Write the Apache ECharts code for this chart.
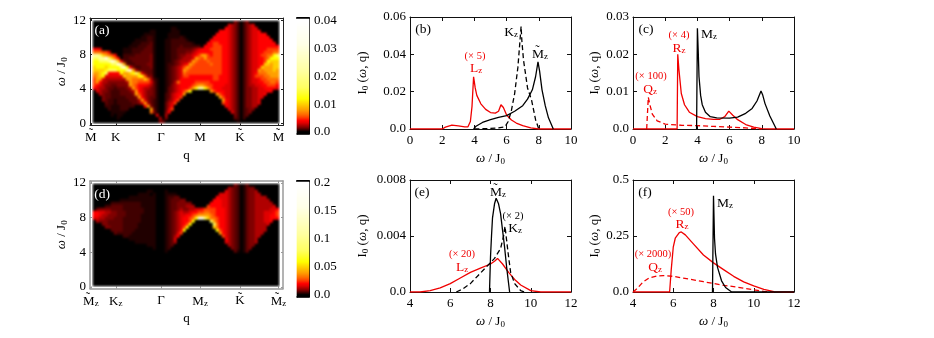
<!DOCTYPE html>
<html><head><meta charset="utf-8">
<style>html,body{margin:0;padding:0;background:#fff}#c{width:934px;height:338px}</style>
<script src="https://cdn.jsdelivr.net/npm/echarts@6/dist/echarts.min.js"></script>
</head><body><div id="c"></div>
<script>
// ---- colour levels used by the two heat maps (fraction of the colour scale) ----
const levelFrac=[0,.01,.02,.03,.04,.06,.08,.1,.13,.16,.2,.25,.3,.4,.55,.8,1];
const levelColor=['#000000','#200000','#400000','#600000','#800000','#b00000','#e00000','#ff0000','#ff4000','#ff7000','#ffa000','#ffd000','#ffff00','#ffff60','#ffffa0','#ffffe8','#ffffff'];
// ---- panel (a): intensity level, one string per omega row (top = 12), 62 q columns ----
const heatA=[
"0000000000 0000000000 0000000000 0000000000 0000000420 2400000000 00",
"0000000000 0000000000 0000000000 0000000000 0000065420 2456000000 00",
"0000000000 0000000000 0000001100 0000000000 0000765420 2456600000 00",
"0000000000 0000000001 1000001110 0000000000 0077765420 2456670000 00",
"0000000000 0000000111 1000011110 0000000000 0777765420 2456677700 00",
"0000000000 0000001122 1000011112 1000000000 7777765420 2456677770 00",
"0000000000 0000111122 1000112222 2100000007 7777765420 2456677777 00",
"0000000000 0001112223 1000112222 2221000077 8877765420 2456677777 70",
"0000000000 0011122233 1000112223 2222220777 8887765420 2456677777 77",
"7760000000 1112222333 1000112233 3334567778 8887765420 2456677788 88",
"9998860000 1112223333 1000112233 3445677777 8887765420 2456677888 99",
"eedba98700 2222333334 1000112234 455678aa87 8887765420 2456678899 cd",
"ddeefdb970 2233333334 1000112234 5556a98a88 8887765420 245667789c cc",
"ccdddefeb7 3223333334 1000112345 556a988898 8887765420 24566778cb bb",
"ccccccddfe a322333344 1000122345 67a9888889 8887765420 2456677bba bb",
"bcccbcccce fc74223334 1000123456 8a98888888 8887765420 245667baaa bb",
"bbbbcdddcc cefa533333 1000123456 a988888888 8887765420 24566a9aaa ba",
"aabcd7777c aabcdb6433 1000123456 9888888888 8887765420 24567999aa aa",
"9abc666666 baaaacc844 1000123456 8877777777 8877765420 245688899a aa",
"8aa6555555 5aa9999b95 2100123457 7777777777 8877765420 2456678899 99",
"8a75544444 45a9988886 3100123597 7777888887 7777765420 2456677889 98",
"8765443344 44a9877765 3100124567 77789aa988 7777665420 2455667788 87",
"7655433233 345a876554 3100134567 778aceeca8 7776665420 2445566777 76",
"0654432223 3345a76544 3100134567 8ac000000a 8777665420 2445566677 00",
"0054332223 3334a86544 3100235677 a000000000 0a87665420 2445566700 00",
"0004332222 23334a7543 3100235678 0000000000 00a8665420 2445566000 00",
"0004322122 223335a643 2100245780 0000000000 000a765420 2445560000 00",
"0000322122 2223346a53 2100356800 0000000000 0008765420 2445560000 00",
"0000221112 22220007a4 2100357000 0000000000 0000765420 2445500000 00",
"0000021112 220000000a 3100368000 0000000000 0000065420 2344000000 00",
"0000001111 1000000009 4100470000 0000000000 0000006420 2340000000 00",
"0000001011 0000000000 0600500000 0000000000 0000000420 2300000000 00",
"0000000010 0000000000 0050400000 0000000000 0000000320 2000000000 00",
"0000000000 0000000000 0043000000 0000000000 0000000010 0000000000 00"];
// ---- panel (d) ----
const heatD=[
"0000000000 0000000000 0000000000 0000000000 0000000420 1300000000 00",
"0000000000 0000000000 0000000000 0000000000 0000054320 1344000000 00",
"0000000000 0000000011 0000100000 0000000000 0000654320 1344500000 00",
"0000000000 0000011110 1000111100 0000000000 0066654320 1344550000 00",
"0000000000 0011111111 1000122330 0000000000 0766654320 1344555500 00",
"0000000001 1111111111 1000123334 4000000000 7776654320 1344555550 00",
"0000002222 2222221111 1000123344 4440000007 7776654320 1344555555 00",
"0000223333 2222221111 1000123344 4555000087 7776654320 1344555555 60",
"0344443333 2222222111 1000123345 4455667888 8777654320 1344555556 67",
"7766554433 3222222111 1000123456 5567788998 8777654320 1344555666 78",
"7765544433 3222221111 1000123456 67789aaaa9 8777654320 1344555667 78",
"6655444333 2222221111 1000123456 7789cffdb9 9877654320 1344555667 77",
"0544433333 2222221111 1000123456 778c00000d a877654320 1344555667 00",
"0004433333 2222211111 1000123456 78c0000000 d977654320 1344555560 00",
"0000443333 2222211111 1000123456 8c00000000 b977654320 1344555500 00",
"0000003333 2222111111 1000123457 c000000000 0c87654320 1344555500 00",
"0000000322 2221111111 1000123468 0000000000 00a7654320 1344555000 00",
"0000000000 2211111111 1000123570 0000000000 0008654320 1344550000 00",
"0000000000 0011111111 1000123600 0000000000 0000754320 1344500000 00",
"0000000000 0000111111 1000123500 0000000000 0000654320 1344500000 00",
"0000000000 0000000011 1000123000 0000000000 0000054320 1344000000 00",
"0000000000 0000000000 1000120000 0000000000 0000004320 1340000000 00",
"0000000000 0000000000 0000100000 0000000000 0000000310 1300000000 00",
"","","","","","","","","","",""];
const heatAMax=0.04, heatDMax=0.2;
const omegaTicks=[0,4,8,12], omegaLabels=['0','4','8','12'];
const qTickPos=[-0.7,7.6,22.7,35.7,49,61.8];
const qLabelsA=['M','K','Γ','M','K','M'];
const qLabelsD=['{n|M}{s|z}','{n|K}{s|z}','{n|Γ}','{n|M}{s|z}','{n|K}','{n|M}{s|z}'];
const barTicksA=[0,.01,.02,.03,.04], barLabelsA=['0.0','0.01','0.02','0.03','0.04'];
const barTicksD=[0,.05,.1,.15,.2], barLabelsD=['0.0','0.05','0.1','0.15','0.2'];
// ---- panel (b) ----
const bLzW=[0,2,2.2,2.6,3,3.4,3.6,3.75,3.85,3.95,4.05,4.15,4.4,4.7,5,5.3,5.5,5.65,5.8,6,6.3,6.6,7,7.5,8,10];
const bLzV=[0,0,.001,.0021,.0017,.0011,.0012,.004,.012,.028,.022,.018,.0135,.0105,.0088,.0085,.0095,.013,.0115,.0075,.0048,.0032,.0018,.0006,0,0];
const bKzW=[4,5,5.5,5.9,6.1,6.3,6.5,6.7,6.82,6.9,6.95,7.05,7.15,7.3,7.55,7.8,8];
const bKzV=[0,.0003,.0006,.0012,.004,.010,.019,.033,.046,.055,.047,.037,.031,.022,.0155,.005,0];
const bMzW=[3.95,4.1,4.5,5,5.5,6,6.5,7,7.3,7.6,7.8,7.95,8.05,8.2,8.4,8.6,8.9];
const bMzV=[0,.0015,.0035,.005,.0062,.0072,.0095,.0125,.016,.021,.028,.036,.031,.021,.0125,.006,0];
// ---- panel (c) ----
const cMzW=[3.95,4,4.05,4.1,4.2,4.3,4.5,4.8,5.2,6,6.5,7,7.4,7.7,7.95,8.05,8.2,8.5,8.9];
const cMzV=[0,.027,.021,.014,.009,.0065,.0045,.0033,.003,.0029,.0032,.0042,.0055,.0075,.0102,.0092,.0068,.0035,0];
const cRzW=[0,2.74,2.78,2.85,3,3.2,3.5,4,4.5,5,5.4,5.7,5.95,6.2,6.5,7,7.5,8,8.5,10];
const cRzV=[0,0,.02,.016,.0095,.0065,.0045,.0033,.0028,.0026,.0026,.0033,.0048,.0037,.0025,.0012,.0005,.0001,0,0];
const cQzW=[.85,.95,1.05,1.2,1.5,2,3,4,5,6,7,8];
const cQzV=[0,.0085,.0065,.004,.0022,.0013,.001,.0009,.0007,.0005,.0003,0];
// ---- panel (e) ----
const eMzW=[7.95,8,8.05,8.1,8.2,8.28,8.4,8.5,8.6,8.7,8.8,8.95];
const eMzV=[0,.0025,.004,.0053,.0063,.0067,.0063,.0056,.0044,.0032,.0018,0];
const eKzW=[6.3,6.6,7,7.4,7.8,8.2,8.5,8.65,8.72,8.8,8.9,9,9.2,9.5,9.7];
const eKzV=[0,.0002,.0006,.0012,.0018,.0024,.0031,.004,.0047,.0037,.0025,.0014,.0006,.0001,0];
const eLzW=[4,4.5,5,5.5,6,6.5,7,7.5,8,8.2,8.35,8.6,8.9,9.2,9.5,10,10.5,12];
const eLzV=[0,0,.0001,.0003,.0006,.001,.0014,.0017,.002,.0022,.0024,.002,.0014,.0009,.0005,.0001,0,0];
// ---- panel (f) ----
const fMzW=[7.95,8,8.05,8.1,8.2,8.4,8.6,8.9,12];
const fMzV=[0,.43,.24,.17,.11,.05,.02,0,0];
const fRzW=[4,5.82,5.9,6,6.1,6.3,6.4,6.6,7,7.5,8,8.5,9,9.5,10,10.5,11,11.5,12];
const fRzV=[0,0,.1,.2,.24,.265,.268,.255,.215,.165,.13,.1,.07,.045,.027,.012,.002,0,0];
const fQzW=[4,4.2,4.5,4.8,5.2,5.5,6,6.5,7,7.5,8,8.5,9,9.5,10,10.5,11];
const fQzV=[0,.015,.045,.063,.072,.073,.07,.062,.054,.046,.038,.03,.024,.017,.01,.003,0];
// ---- tick lists ----
const wTicks010=[0,2,4,6,8,10], wTicks412=[4,6,8,10,12];
const bTicks=[0,.02,.04,.06], bLabels=['0.0','0.02','0.04','0.06'];
const cTicks=[0,.01,.02,.03], cLabels=['0.0','0.01','0.02','0.03'];
const eTicks=[0,.004,.008], eLabels=['0.0','0.004','0.008'];
const fTicks=[0,.25,.5], fLabels=['0.0','0.25','0.5'];

const F='"Liberation Serif","Times New Roman",serif';
const RED='#f00000', BLK='#000';
const tok=(sz,extra)=>Object.assign({fontFamily:F,fontSize:sz,color:BLK},extra||{});
const rich={n:tok(13),i:tok(13,{fontStyle:'italic'}),s:tok(9,{verticalAlign:'bottom',padding:[5,0,0,0]})};
const W_NAME='{i|ω}{n| / J}{s|0}', I_NAME='{n|I}{s|0}{n| (}{i|ω}{n|, q)}';

const levelChars='0123456789abcdef';
function decode(rows,max){const out=[];rows.forEach((r,y)=>{const s=r.replace(/ /g,'');for(let x=0;x<62;x++){const k=levelChars.indexOf(s[x]||'0');out.push([x,y,levelFrac[k]*max]);}});return out;}
function cmap(){const out=[];const hex=h=>[1,3,5].map(i=>parseInt(h.substr(i,2),16));for(let i=0;i<=100;i++){const f=i/100;let k=0;while(k<levelFrac.length-2&&levelFrac[k+1]<f)k++;const t=(f-levelFrac[k])/(levelFrac[k+1]-levelFrac[k]);const a=hex(levelColor[k]),b=hex(levelColor[k+1]);out.push('rgb('+a.map((v,j)=>Math.round(v+(b[j]-v)*t)).join(',')+')');}return out;}
const colors=cmap();

const grid=[],xAxis=[],yAxis=[],series=[];
function addGrid(l,t,w,h){grid.push({left:l,top:t,width:w,height:h});return grid.length-1;}
function catAxes(g,nx,ny,inv){
  const xi=xAxis.length,yi=yAxis.length;
  xAxis.push({type:'category',gridIndex:g,show:false,data:Array.from({length:nx},(_,i)=>i)});
  yAxis.push({type:'category',gridIndex:g,show:false,inverse:!!inv,data:Array.from({length:ny},(_,i)=>i)});
  return [xi,yi];
}
function fmt(t,l){return v=>l[t.indexOf(v)];}
function valAxes(g,o){
  const xi=xAxis.length,yi=yAxis.length,c=o.color||'#111',lw=o.lineWidth||1;
  const line={show:true,onZero:false,lineStyle:{color:c,width:lw}};
  const tick=(ticks,len)=>({show:true,inside:true,length:len===undefined?4:len,customValues:ticks,lineStyle:{color:c,width:1}});
  const lab={fontFamily:F,fontSize:13,color:BLK,rich};
  xAxis.push({type:'value',gridIndex:g,position:'bottom',min:o.xMin,max:o.xMax,axisLine:line,axisTick:tick(o.xT,o.tl),splitLine:{show:false},
    axisLabel:Object.assign({},lab,{margin:o.xMargin||5,customValues:o.xT,formatter:fmt(o.xT,o.xL),hideOverlap:false,showMinLabel:true,showMaxLabel:true}),
    name:o.xName,nameLocation:'middle',nameGap:o.xGap,nameTextStyle:{fontFamily:F,fontSize:13,color:BLK,rich}});
  xAxis.push({type:'value',gridIndex:g,position:'top',min:o.xMin,max:o.xMax,axisLine:line,axisTick:tick(o.xT,o.tl),axisLabel:{show:false},splitLine:{show:false}});
  yAxis.push({type:'value',gridIndex:g,position:'left',min:o.yMin,max:o.yMax,axisLine:line,axisTick:tick(o.yT,o.tl),splitLine:{show:false},
    axisLabel:Object.assign({},lab,{margin:o.yMargin||4,customValues:o.yT,formatter:fmt(o.yT,o.yL),showMinLabel:true,showMaxLabel:true}),
    name:o.yName,nameLocation:'middle',nameGap:o.yGap,nameTextStyle:{fontFamily:F,fontSize:13,color:BLK,rich}});
  yAxis.push({type:'value',gridIndex:g,position:'right',min:o.yMin,max:o.yMax,axisLine:line,axisTick:tick(o.yT,o.tl),axisLabel:{show:false},splitLine:{show:false}});
  return [xi,yi];
}
function heat(l,t,w,h,rows,max){
  const g=addGrid(l,t,w,h);const [x,y]=catAxes(g,62,34,true);
  series.push({type:'heatmap',xAxisIndex:x,yAxisIndex:y,data:decode(rows,max),silent:true,progressive:0,animation:false,zlevel:1});
}
function bar(t,h,max,barBottom){
  const N=Math.round(h);const g=addGrid(297,t,12,h);const [x,y]=catAxes(g,1,N,false);
  const cells=[];for(let i=0;i<N;i++)cells.push([0,i,Math.max(0,(i-barBottom)/(N-1-barBottom-2))*max]);
  series.push({type:'heatmap',xAxisIndex:x,yAxisIndex:y,data:cells,silent:true,progressive:0,animation:false});
}
// order: heat a, bar a, heat d, bar d
heat(93,21,186,102,heatA,heatAMax);
bar(19,115,heatAMax,2);
heat(93,184,186,102,heatD,heatDMax);
bar(182,115,heatDMax,2);

valAxes(addGrid(90,18,193,107.5),{xMin:-1,xMax:63.33,yMin:-.26,yMax:12.27,xT:qTickPos,xL:qLabelsA,yT:omegaTicks,yL:omegaLabels,xName:'{n|q}',xGap:24,yName:W_NAME,yGap:21,tl:2,xMargin:6,color:'#222'});
valAxes(addGrid(90,181,193,107.5),{xMin:-1,xMax:63.33,yMin:-.17,yMax:12.23,xT:qTickPos,xL:qLabelsD,yT:omegaTicks,yL:omegaLabels,xName:'{n|q}',xGap:24,yName:W_NAME,yGap:21,tl:2,xMargin:6,color:'#9a9a9a',lineWidth:1.5});
function barFrame(t,h,yMin,yMax,ticks,labels){
  const g=addGrid(297,t,12,h);
  xAxis.push({type:'value',gridIndex:g,min:0,max:1,show:true,axisLine:{show:true,onZero:false,lineStyle:{color:'#000',width:1.5}},axisTick:{show:false},axisLabel:{show:false},splitLine:{show:false}});
  xAxis.push({type:'value',gridIndex:g,position:'top',min:0,max:1,show:true,axisLine:{show:true,onZero:false,lineStyle:{color:'#000',width:2}},axisTick:{show:false},axisLabel:{show:false},splitLine:{show:false}});
  yAxis.push({type:'value',gridIndex:g,position:'left',min:yMin,max:yMax,axisLine:{show:true,onZero:false,lineStyle:{color:'#000',width:1}},axisTick:{show:false},axisLabel:{show:false},splitLine:{show:false}});
  yAxis.push({type:'value',gridIndex:g,position:'right',min:yMin,max:yMax,axisLine:{show:true,onZero:false,lineStyle:{color:'#000',width:1}},axisTick:{show:false},splitLine:{show:false},
    axisLabel:{show:true,margin:5,fontFamily:F,fontSize:13,color:BLK,customValues:ticks,formatter:fmt(ticks,labels),showMinLabel:true,showMaxLabel:true}});
}
barFrame(18,116,-.00072,.0411,barTicksA,barLabelsA);
barFrame(181,116,-.0043,.2036,barTicksD,barLabelsD);

function linePanel(l,t,o,curves){
  const [x,y]=valAxes(addGrid(l,t,161,112),Object.assign({xName:W_NAME,xGap:23,yName:I_NAME},o));
  curves.forEach(c=>series.push({type:'line',xAxisIndex:x,yAxisIndex:y,showSymbol:false,silent:true,animation:false,
    data:c.w.map((w,i)=>[w,c.v[i]]),lineStyle:{color:c.color,width:1.3,type:c.dash?[5,3]:'solid'}}));
}
linePanel(410,17,{xMin:0,xMax:10,yMin:0,yMax:.06,xT:wTicks010,xL:wTicks010.map(String),yT:bTicks,yL:bLabels,yGap:40},[
 {w:bLzW,v:bLzV,color:RED},{w:bKzW,v:bKzV,color:BLK,dash:1},{w:bMzW,v:bMzV,color:BLK}]);
linePanel(633,17,{xMin:0,xMax:10,yMin:0,yMax:.03,xT:wTicks010,xL:wTicks010.map(String),yT:cTicks,yL:cLabels,yGap:31},[
 {w:cRzW,v:cRzV,color:RED},{w:cQzW,v:cQzV,color:RED,dash:1},{w:cMzW,v:cMzV,color:BLK}]);
linePanel(410,180,{xMin:4,xMax:12,yMin:0,yMax:.008,xT:wTicks412,xL:wTicks412.map(String),yT:eTicks,yL:eLabels,yGap:40},[
 {w:eLzW,v:eLzV,color:RED},{w:eKzW,v:eKzV,color:BLK,dash:1},{w:eMzW,v:eMzV,color:BLK}]);
linePanel(633,180,{xMin:4,xMax:12,yMin:0,yMax:.5,xT:wTicks412,xL:wTicks412.map(String),yT:fTicks,yL:fLabels,yGap:31},[
 {w:fRzW,v:fRzV,color:RED},{w:fQzW,v:fQzV,color:RED,dash:1},{w:fMzW,v:fMzV,color:BLK}]);

function note(x,y,text,color,size){
  const c=color||BLK,sz=size||13.5;
  return {type:'text',x,y,z:50,zlevel:2,silent:true,style:{text,textAlign:'center',textVerticalAlign:'middle',fontFamily:F,fontSize:sz,fill:c,
    rich:{n:{fontFamily:F,fontSize:sz,fill:c},s:{fontFamily:F,fontSize:9,fill:c,verticalAlign:'bottom',padding:[5,0,0,0]}}}};
}
const sub=(m)=>'{n|'+m+'}{s|z}';
const tilde=(x,y)=>note(x,y,'˜',BLK,13);
const graphicEls=[
 note(102,30,'(a)','#fff'),note(102,194,'(d)','#fff'),
 note(423,29,'(b)'),note(475,56,'(× 5)',RED,10.5),note(476,68,sub('L'),RED),note(511,32,sub('K')),note(540,54,sub('M')),tilde(537.5,51),
 note(646,29,'(c)'),note(679,35,'(× 4)',RED,10.5),note(679,48,sub('R'),RED),note(709,34,sub('M')),note(651,76,'(× 100)',RED,10.5),note(650,89,sub('Q'),RED),
 note(422,192,'(e)'),note(498,192,sub('M')),tilde(495.5,189),note(513,216,'(× 2)',BLK,10.5),note(515,228,sub('K')),note(462,254,'(× 20)',RED,10.5),note(462,267,sub('L'),RED),
 note(645,192,'(f)'),note(725,203,sub('M')),note(681,212,'(× 50)',RED,10.5),note(682,224,sub('R'),RED),note(653,254,'(× 2000)',RED,10.5),note(655,267,sub('Q'),RED),
 tilde(91,134),tilde(240,134),tilde(278,134),tilde(88,298),tilde(240,298),tilde(277,298)
];
const chart=echarts.init(document.getElementById('c'),null,{renderer:'canvas'});
chart.setOption({animation:false,backgroundColor:'transparent',grid,xAxis,yAxis,series,graphic:graphicEls,
 visualMap:[
  {show:false,type:'continuous',min:0,max:heatAMax,seriesIndex:[0,1],dimension:2,inRange:{color:colors}},
  {show:false,type:'continuous',min:0,max:heatDMax,seriesIndex:[2,3],dimension:2,inRange:{color:colors}}]});
// soften only the heat-map layer, as in the reference's resampled bitmap
const layer=document.querySelector('#c canvas[data-zr-dom-id="zr_1"]');
if(layer){layer.style.filter='blur(0.8px)';layer.style.clipPath="path('M92 20H280V124H92Z M92 183H280V287H92Z')";}
</script></body></html>
